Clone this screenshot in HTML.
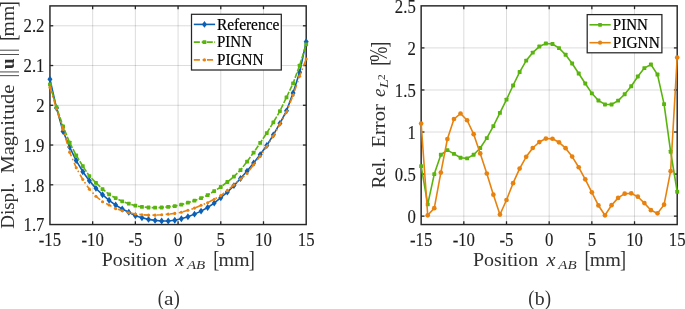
<!DOCTYPE html>
<html><head><meta charset="utf-8"><title>Figure</title>
<style>html,body{margin:0;padding:0;background:#fff;}svg{display:block;will-change:transform;filter:opacity(1);}</style>
</head><body>
<svg width="685" height="309" viewBox="0 0 685 309" font-family="'Liberation Serif', serif" fill="#222">
<rect width="685" height="309" fill="#ffffff"/>
<line x1="92.66" y1="5.90" x2="92.66" y2="224.55" stroke="rgba(38,38,38,0.16)" stroke-width="1"/>
<line x1="135.37" y1="5.90" x2="135.37" y2="224.55" stroke="rgba(38,38,38,0.16)" stroke-width="1"/>
<line x1="178.07" y1="5.90" x2="178.07" y2="224.55" stroke="rgba(38,38,38,0.16)" stroke-width="1"/>
<line x1="220.78" y1="5.90" x2="220.78" y2="224.55" stroke="rgba(38,38,38,0.16)" stroke-width="1"/>
<line x1="263.49" y1="5.90" x2="263.49" y2="224.55" stroke="rgba(38,38,38,0.16)" stroke-width="1"/>
<line x1="49.95" y1="184.80" x2="306.20" y2="184.80" stroke="rgba(38,38,38,0.16)" stroke-width="1"/>
<line x1="49.95" y1="145.04" x2="306.20" y2="145.04" stroke="rgba(38,38,38,0.16)" stroke-width="1"/>
<line x1="49.95" y1="105.29" x2="306.20" y2="105.29" stroke="rgba(38,38,38,0.16)" stroke-width="1"/>
<line x1="49.95" y1="65.53" x2="306.20" y2="65.53" stroke="rgba(38,38,38,0.16)" stroke-width="1"/>
<line x1="49.95" y1="25.78" x2="306.20" y2="25.78" stroke="rgba(38,38,38,0.16)" stroke-width="1"/>
<line x1="92.66" y1="224.55" x2="92.66" y2="221.25" stroke="#262626" stroke-width="1.3"/>
<line x1="92.66" y1="5.90" x2="92.66" y2="9.20" stroke="#262626" stroke-width="1.3"/>
<line x1="135.37" y1="224.55" x2="135.37" y2="221.25" stroke="#262626" stroke-width="1.3"/>
<line x1="135.37" y1="5.90" x2="135.37" y2="9.20" stroke="#262626" stroke-width="1.3"/>
<line x1="178.07" y1="224.55" x2="178.07" y2="221.25" stroke="#262626" stroke-width="1.3"/>
<line x1="178.07" y1="5.90" x2="178.07" y2="9.20" stroke="#262626" stroke-width="1.3"/>
<line x1="220.78" y1="224.55" x2="220.78" y2="221.25" stroke="#262626" stroke-width="1.3"/>
<line x1="220.78" y1="5.90" x2="220.78" y2="9.20" stroke="#262626" stroke-width="1.3"/>
<line x1="263.49" y1="224.55" x2="263.49" y2="221.25" stroke="#262626" stroke-width="1.3"/>
<line x1="263.49" y1="5.90" x2="263.49" y2="9.20" stroke="#262626" stroke-width="1.3"/>
<line x1="49.95" y1="184.80" x2="53.25" y2="184.80" stroke="#262626" stroke-width="1.3"/>
<line x1="306.20" y1="184.80" x2="302.90" y2="184.80" stroke="#262626" stroke-width="1.3"/>
<line x1="49.95" y1="145.04" x2="53.25" y2="145.04" stroke="#262626" stroke-width="1.3"/>
<line x1="306.20" y1="145.04" x2="302.90" y2="145.04" stroke="#262626" stroke-width="1.3"/>
<line x1="49.95" y1="105.29" x2="53.25" y2="105.29" stroke="#262626" stroke-width="1.3"/>
<line x1="306.20" y1="105.29" x2="302.90" y2="105.29" stroke="#262626" stroke-width="1.3"/>
<line x1="49.95" y1="65.53" x2="53.25" y2="65.53" stroke="#262626" stroke-width="1.3"/>
<line x1="306.20" y1="65.53" x2="302.90" y2="65.53" stroke="#262626" stroke-width="1.3"/>
<line x1="49.95" y1="25.78" x2="53.25" y2="25.78" stroke="#262626" stroke-width="1.3"/>
<line x1="306.20" y1="25.78" x2="302.90" y2="25.78" stroke="#262626" stroke-width="1.3"/>
<rect x="49.95" y="5.90" width="256.25" height="218.65" fill="none" stroke="#262626" stroke-width="1.45"/>
<polyline points="49.95,79.29 56.52,108.07 63.09,131.52 69.66,147.03 76.23,160.55 82.80,171.68 89.37,180.82 95.94,188.37 102.51,194.73 109.08,200.30 115.66,205.07 122.23,209.05 128.80,212.23 135.37,215.80 141.94,217.79 148.51,219.38 155.08,220.38 161.65,220.97 168.22,220.97 174.79,220.18 181.36,218.75 187.93,216.72 194.50,214.13 201.07,211.11 207.64,207.46 214.21,203.08 220.78,197.68 227.35,192.07 233.92,185.59 240.49,178.51 247.07,171.08 253.64,163.05 260.21,154.58 266.78,145.52 273.35,134.86 279.92,123.37 286.49,110.85 293.06,92.96 299.63,72.29 306.20,41.68" fill="none" stroke="#0b5fb4" stroke-width="1.6" stroke-linejoin="round"/>
<polygon points="49.95,75.84 52.45,79.29 49.95,82.74 47.45,79.29" fill="#0b5fb4"/>
<polygon points="56.52,104.62 59.02,108.07 56.52,111.52 54.02,108.07" fill="#0b5fb4"/>
<polygon points="63.09,128.07 65.59,131.52 63.09,134.97 60.59,131.52" fill="#0b5fb4"/>
<polygon points="69.66,143.58 72.16,147.03 69.66,150.48 67.16,147.03" fill="#0b5fb4"/>
<polygon points="76.23,157.10 78.73,160.55 76.23,164.00 73.73,160.55" fill="#0b5fb4"/>
<polygon points="82.80,168.23 85.30,171.68 82.80,175.13 80.30,171.68" fill="#0b5fb4"/>
<polygon points="89.37,177.37 91.87,180.82 89.37,184.27 86.87,180.82" fill="#0b5fb4"/>
<polygon points="95.94,184.92 98.44,188.37 95.94,191.82 93.44,188.37" fill="#0b5fb4"/>
<polygon points="102.51,191.28 105.01,194.73 102.51,198.18 100.01,194.73" fill="#0b5fb4"/>
<polygon points="109.08,196.85 111.58,200.30 109.08,203.75 106.58,200.30" fill="#0b5fb4"/>
<polygon points="115.66,201.62 118.16,205.07 115.66,208.52 113.16,205.07" fill="#0b5fb4"/>
<polygon points="122.23,205.60 124.73,209.05 122.23,212.50 119.73,209.05" fill="#0b5fb4"/>
<polygon points="128.80,208.78 131.30,212.23 128.80,215.68 126.30,212.23" fill="#0b5fb4"/>
<polygon points="135.37,212.35 137.87,215.80 135.37,219.25 132.87,215.80" fill="#0b5fb4"/>
<polygon points="141.94,214.34 144.44,217.79 141.94,221.24 139.44,217.79" fill="#0b5fb4"/>
<polygon points="148.51,215.93 151.01,219.38 148.51,222.83 146.01,219.38" fill="#0b5fb4"/>
<polygon points="155.08,216.93 157.58,220.38 155.08,223.83 152.58,220.38" fill="#0b5fb4"/>
<polygon points="161.65,217.52 164.15,220.97 161.65,224.42 159.15,220.97" fill="#0b5fb4"/>
<polygon points="168.22,217.52 170.72,220.97 168.22,224.42 165.72,220.97" fill="#0b5fb4"/>
<polygon points="174.79,216.73 177.29,220.18 174.79,223.63 172.29,220.18" fill="#0b5fb4"/>
<polygon points="181.36,215.30 183.86,218.75 181.36,222.20 178.86,218.75" fill="#0b5fb4"/>
<polygon points="187.93,213.27 190.43,216.72 187.93,220.17 185.43,216.72" fill="#0b5fb4"/>
<polygon points="194.50,210.68 197.00,214.13 194.50,217.58 192.00,214.13" fill="#0b5fb4"/>
<polygon points="201.07,207.66 203.57,211.11 201.07,214.56 198.57,211.11" fill="#0b5fb4"/>
<polygon points="207.64,204.01 210.14,207.46 207.64,210.91 205.14,207.46" fill="#0b5fb4"/>
<polygon points="214.21,199.63 216.71,203.08 214.21,206.53 211.71,203.08" fill="#0b5fb4"/>
<polygon points="220.78,194.23 223.28,197.68 220.78,201.13 218.28,197.68" fill="#0b5fb4"/>
<polygon points="227.35,188.62 229.85,192.07 227.35,195.52 224.85,192.07" fill="#0b5fb4"/>
<polygon points="233.92,182.14 236.42,185.59 233.92,189.04 231.42,185.59" fill="#0b5fb4"/>
<polygon points="240.49,175.06 242.99,178.51 240.49,181.96 237.99,178.51" fill="#0b5fb4"/>
<polygon points="247.07,167.63 249.57,171.08 247.07,174.53 244.57,171.08" fill="#0b5fb4"/>
<polygon points="253.64,159.60 256.14,163.05 253.64,166.50 251.14,163.05" fill="#0b5fb4"/>
<polygon points="260.21,151.13 262.71,154.58 260.21,158.03 257.71,154.58" fill="#0b5fb4"/>
<polygon points="266.78,142.07 269.28,145.52 266.78,148.97 264.28,145.52" fill="#0b5fb4"/>
<polygon points="273.35,131.41 275.85,134.86 273.35,138.31 270.85,134.86" fill="#0b5fb4"/>
<polygon points="279.92,119.92 282.42,123.37 279.92,126.82 277.42,123.37" fill="#0b5fb4"/>
<polygon points="286.49,107.40 288.99,110.85 286.49,114.30 283.99,110.85" fill="#0b5fb4"/>
<polygon points="293.06,89.51 295.56,92.96 293.06,96.41 290.56,92.96" fill="#0b5fb4"/>
<polygon points="299.63,68.84 302.13,72.29 299.63,75.74 297.13,72.29" fill="#0b5fb4"/>
<polygon points="306.20,38.23 308.70,41.68 306.20,45.13 303.70,41.68" fill="#0b5fb4"/>
<polyline points="49.95,84.34 56.52,107.27 63.09,126.36 69.66,142.66 76.23,155.38 82.80,166.11 89.37,176.05 95.94,182.81 102.51,189.17 109.08,194.34 115.66,198.07 122.23,201.29 128.80,203.68 135.37,205.71 141.94,206.90 148.51,207.50 155.08,207.69 161.65,207.50 168.22,206.90 174.79,206.10 181.36,204.67 187.93,202.69 194.50,200.70 201.07,198.07 207.64,195.13 214.21,191.04 220.78,186.98 227.35,182.01 233.92,176.53 240.49,170.09 247.07,161.62 253.64,152.59 260.21,142.89 266.78,133.04 273.35,122.38 279.92,111.05 286.49,97.34 293.06,83.42 299.63,65.53 306.20,44.46" fill="none" stroke="#5ab40e" stroke-width="1.6" stroke-linejoin="round" stroke-dasharray="5.4 1.5"/>
<rect x="48.05" y="82.44" width="3.8" height="3.8" rx="0.6" fill="#5ab40e"/>
<rect x="54.62" y="105.37" width="3.8" height="3.8" rx="0.6" fill="#5ab40e"/>
<rect x="61.19" y="124.46" width="3.8" height="3.8" rx="0.6" fill="#5ab40e"/>
<rect x="67.76" y="140.76" width="3.8" height="3.8" rx="0.6" fill="#5ab40e"/>
<rect x="74.33" y="153.48" width="3.8" height="3.8" rx="0.6" fill="#5ab40e"/>
<rect x="80.90" y="164.21" width="3.8" height="3.8" rx="0.6" fill="#5ab40e"/>
<rect x="87.47" y="174.15" width="3.8" height="3.8" rx="0.6" fill="#5ab40e"/>
<rect x="94.04" y="180.91" width="3.8" height="3.8" rx="0.6" fill="#5ab40e"/>
<rect x="100.61" y="187.27" width="3.8" height="3.8" rx="0.6" fill="#5ab40e"/>
<rect x="107.18" y="192.44" width="3.8" height="3.8" rx="0.6" fill="#5ab40e"/>
<rect x="113.76" y="196.17" width="3.8" height="3.8" rx="0.6" fill="#5ab40e"/>
<rect x="120.33" y="199.39" width="3.8" height="3.8" rx="0.6" fill="#5ab40e"/>
<rect x="126.90" y="201.78" width="3.8" height="3.8" rx="0.6" fill="#5ab40e"/>
<rect x="133.47" y="203.81" width="3.8" height="3.8" rx="0.6" fill="#5ab40e"/>
<rect x="140.04" y="205.00" width="3.8" height="3.8" rx="0.6" fill="#5ab40e"/>
<rect x="146.61" y="205.60" width="3.8" height="3.8" rx="0.6" fill="#5ab40e"/>
<rect x="153.18" y="205.79" width="3.8" height="3.8" rx="0.6" fill="#5ab40e"/>
<rect x="159.75" y="205.60" width="3.8" height="3.8" rx="0.6" fill="#5ab40e"/>
<rect x="166.32" y="205.00" width="3.8" height="3.8" rx="0.6" fill="#5ab40e"/>
<rect x="172.89" y="204.20" width="3.8" height="3.8" rx="0.6" fill="#5ab40e"/>
<rect x="179.46" y="202.77" width="3.8" height="3.8" rx="0.6" fill="#5ab40e"/>
<rect x="186.03" y="200.79" width="3.8" height="3.8" rx="0.6" fill="#5ab40e"/>
<rect x="192.60" y="198.80" width="3.8" height="3.8" rx="0.6" fill="#5ab40e"/>
<rect x="199.17" y="196.17" width="3.8" height="3.8" rx="0.6" fill="#5ab40e"/>
<rect x="205.74" y="193.23" width="3.8" height="3.8" rx="0.6" fill="#5ab40e"/>
<rect x="212.31" y="189.14" width="3.8" height="3.8" rx="0.6" fill="#5ab40e"/>
<rect x="218.88" y="185.08" width="3.8" height="3.8" rx="0.6" fill="#5ab40e"/>
<rect x="225.45" y="180.11" width="3.8" height="3.8" rx="0.6" fill="#5ab40e"/>
<rect x="232.02" y="174.63" width="3.8" height="3.8" rx="0.6" fill="#5ab40e"/>
<rect x="238.59" y="168.19" width="3.8" height="3.8" rx="0.6" fill="#5ab40e"/>
<rect x="245.17" y="159.72" width="3.8" height="3.8" rx="0.6" fill="#5ab40e"/>
<rect x="251.74" y="150.69" width="3.8" height="3.8" rx="0.6" fill="#5ab40e"/>
<rect x="258.31" y="140.99" width="3.8" height="3.8" rx="0.6" fill="#5ab40e"/>
<rect x="264.88" y="131.14" width="3.8" height="3.8" rx="0.6" fill="#5ab40e"/>
<rect x="271.45" y="120.48" width="3.8" height="3.8" rx="0.6" fill="#5ab40e"/>
<rect x="278.02" y="109.15" width="3.8" height="3.8" rx="0.6" fill="#5ab40e"/>
<rect x="284.59" y="95.44" width="3.8" height="3.8" rx="0.6" fill="#5ab40e"/>
<rect x="291.16" y="81.52" width="3.8" height="3.8" rx="0.6" fill="#5ab40e"/>
<rect x="297.73" y="63.63" width="3.8" height="3.8" rx="0.6" fill="#5ab40e"/>
<rect x="304.30" y="42.56" width="3.8" height="3.8" rx="0.6" fill="#5ab40e"/>
<polyline points="49.95,87.40 56.52,108.86 63.09,129.14 69.66,152.20 76.23,167.70 82.80,179.51 89.37,189.17 95.94,196.32 102.51,201.69 109.08,205.07 115.66,208.65 122.23,210.72 128.80,212.70 135.37,213.94 141.94,214.73 148.51,215.13 155.08,215.13 161.65,214.73 168.22,214.13 174.79,213.42 181.36,212.31 187.93,210.32 194.50,208.09 201.07,205.31 207.64,202.69 214.21,199.27 220.78,195.65 227.35,190.64 233.92,184.91 240.49,179.11 247.07,173.51 253.64,164.64 260.21,156.17 266.78,146.51 273.35,136.06 279.92,124.37 286.49,112.04 293.06,95.35 299.63,76.27 306.20,58.97" fill="none" stroke="#e8820e" stroke-width="1.6" stroke-linejoin="round" stroke-dasharray="6.1 2.75 1.6 2.75"/>
<circle cx="49.95" cy="87.40" r="1.55" fill="#e8820e"/>
<circle cx="56.52" cy="108.86" r="1.55" fill="#e8820e"/>
<circle cx="63.09" cy="129.14" r="1.55" fill="#e8820e"/>
<circle cx="69.66" cy="152.20" r="1.55" fill="#e8820e"/>
<circle cx="76.23" cy="167.70" r="1.55" fill="#e8820e"/>
<circle cx="82.80" cy="179.51" r="1.55" fill="#e8820e"/>
<circle cx="89.37" cy="189.17" r="1.55" fill="#e8820e"/>
<circle cx="95.94" cy="196.32" r="1.55" fill="#e8820e"/>
<circle cx="102.51" cy="201.69" r="1.55" fill="#e8820e"/>
<circle cx="109.08" cy="205.07" r="1.55" fill="#e8820e"/>
<circle cx="115.66" cy="208.65" r="1.55" fill="#e8820e"/>
<circle cx="122.23" cy="210.72" r="1.55" fill="#e8820e"/>
<circle cx="128.80" cy="212.70" r="1.55" fill="#e8820e"/>
<circle cx="135.37" cy="213.94" r="1.55" fill="#e8820e"/>
<circle cx="141.94" cy="214.73" r="1.55" fill="#e8820e"/>
<circle cx="148.51" cy="215.13" r="1.55" fill="#e8820e"/>
<circle cx="155.08" cy="215.13" r="1.55" fill="#e8820e"/>
<circle cx="161.65" cy="214.73" r="1.55" fill="#e8820e"/>
<circle cx="168.22" cy="214.13" r="1.55" fill="#e8820e"/>
<circle cx="174.79" cy="213.42" r="1.55" fill="#e8820e"/>
<circle cx="181.36" cy="212.31" r="1.55" fill="#e8820e"/>
<circle cx="187.93" cy="210.32" r="1.55" fill="#e8820e"/>
<circle cx="194.50" cy="208.09" r="1.55" fill="#e8820e"/>
<circle cx="201.07" cy="205.31" r="1.55" fill="#e8820e"/>
<circle cx="207.64" cy="202.69" r="1.55" fill="#e8820e"/>
<circle cx="214.21" cy="199.27" r="1.55" fill="#e8820e"/>
<circle cx="220.78" cy="195.65" r="1.55" fill="#e8820e"/>
<circle cx="227.35" cy="190.64" r="1.55" fill="#e8820e"/>
<circle cx="233.92" cy="184.91" r="1.55" fill="#e8820e"/>
<circle cx="240.49" cy="179.11" r="1.55" fill="#e8820e"/>
<circle cx="247.07" cy="173.51" r="1.55" fill="#e8820e"/>
<circle cx="253.64" cy="164.64" r="1.55" fill="#e8820e"/>
<circle cx="260.21" cy="156.17" r="1.55" fill="#e8820e"/>
<circle cx="266.78" cy="146.51" r="1.55" fill="#e8820e"/>
<circle cx="273.35" cy="136.06" r="1.55" fill="#e8820e"/>
<circle cx="279.92" cy="124.37" r="1.55" fill="#e8820e"/>
<circle cx="286.49" cy="112.04" r="1.55" fill="#e8820e"/>
<circle cx="293.06" cy="95.35" r="1.55" fill="#e8820e"/>
<circle cx="299.63" cy="76.27" r="1.55" fill="#e8820e"/>
<circle cx="306.20" cy="58.97" r="1.55" fill="#e8820e"/>
<text transform="translate(49.95 245.75) scale(0.985 1.055)" text-anchor="middle" font-size="17.0" fill="#1c1c1c" stroke="#1c1c1c" stroke-width="0.12">-15</text>
<text transform="translate(92.66 245.75) scale(0.985 1.055)" text-anchor="middle" font-size="17.0" fill="#1c1c1c" stroke="#1c1c1c" stroke-width="0.12">-10</text>
<text transform="translate(135.37 245.75) scale(0.985 1.055)" text-anchor="middle" font-size="17.0" fill="#1c1c1c" stroke="#1c1c1c" stroke-width="0.12">-5</text>
<text transform="translate(178.07 245.75) scale(0.985 1.055)" text-anchor="middle" font-size="17.0" fill="#1c1c1c" stroke="#1c1c1c" stroke-width="0.12">0</text>
<text transform="translate(220.78 245.75) scale(0.985 1.055)" text-anchor="middle" font-size="17.0" fill="#1c1c1c" stroke="#1c1c1c" stroke-width="0.12">5</text>
<text transform="translate(263.49 245.75) scale(0.985 1.055)" text-anchor="middle" font-size="17.0" fill="#1c1c1c" stroke="#1c1c1c" stroke-width="0.12">10</text>
<text transform="translate(306.20 245.75) scale(0.985 1.055)" text-anchor="middle" font-size="17.0" fill="#1c1c1c" stroke="#1c1c1c" stroke-width="0.12">15</text>
<text transform="translate(44.50 231.25) scale(0.985 1.055)" text-anchor="end" font-size="17.0" fill="#1c1c1c" stroke="#1c1c1c" stroke-width="0.12">1.7</text>
<text transform="translate(44.50 191.50) scale(0.985 1.055)" text-anchor="end" font-size="17.0" fill="#1c1c1c" stroke="#1c1c1c" stroke-width="0.12">1.8</text>
<text transform="translate(44.50 151.74) scale(0.985 1.055)" text-anchor="end" font-size="17.0" fill="#1c1c1c" stroke="#1c1c1c" stroke-width="0.12">1.9</text>
<text transform="translate(44.50 111.99) scale(0.985 1.055)" text-anchor="end" font-size="17.0" fill="#1c1c1c" stroke="#1c1c1c" stroke-width="0.12">2</text>
<text transform="translate(44.50 72.23) scale(0.985 1.055)" text-anchor="end" font-size="17.0" fill="#1c1c1c" stroke="#1c1c1c" stroke-width="0.12">2.1</text>
<text transform="translate(44.50 32.48) scale(0.985 1.055)" text-anchor="end" font-size="17.0" fill="#1c1c1c" stroke="#1c1c1c" stroke-width="0.12">2.2</text>
<rect x="191.5" y="14.3" width="89.8" height="55.7" fill="#fff" stroke="#262626" stroke-width="1.25"/>
<polyline points="193.80,24.40 215.10,24.40" fill="none" stroke="#0b5fb4" stroke-width="1.6" stroke-linejoin="round"/>
<polygon points="204.45,20.95 206.95,24.40 204.45,27.85 201.95,24.40" fill="#0b5fb4"/>
<text transform="translate(216.96 29.70) scale(0.9964 1.03)" font-size="15.45" fill="#000" stroke="#000" stroke-width="0.2">Reference</text>
<polyline points="193.80,42.10 215.10,42.10" fill="none" stroke="#5ab40e" stroke-width="1.6" stroke-linejoin="round" stroke-dasharray="6.1 1.8 4.6 0.7 5.8 1.5 0.8"/>
<rect x="202.55" y="40.20" width="3.8" height="3.8" rx="0.6" fill="#5ab40e"/>
<text transform="translate(216.97 47.40) scale(0.9714 1.03)" font-size="15.45" fill="#000" stroke="#000" stroke-width="0.2">PINN</text>
<polyline points="193.80,59.90 215.10,59.90" fill="none" stroke="#e8820e" stroke-width="1.6" stroke-linejoin="round" stroke-dasharray="6.1 2.75 1.6 2.75"/>
<circle cx="204.45" cy="59.90" r="1.65" fill="#e8820e"/>
<text transform="translate(216.96 65.20) scale(0.9856 1.03)" font-size="15.45" fill="#000" stroke="#000" stroke-width="0.2">PIGNN</text>
<g fill="#303030">
<text transform="translate(101.69 265.60) scale(1.0945 1.0)" font-size="18.2" >Position</text>
<text transform="translate(175.22 265.60) scale(1.1156 1.0)" font-size="18.2" font-style="italic" >x</text>
<text transform="translate(186.94 268.50) scale(1.1190 1.0)" font-size="13.4" font-style="italic" >AB</text>
<text transform="translate(213.26 267.35) scale(1.0 1.29)" font-size="18.2">[</text>
<text transform="translate(218.39 265.60) scale(1.1041 1.0)" font-size="18.2" >mm</text>
<text transform="translate(248.67 267.35) scale(1.0 1.29)" font-size="18.2">]</text>
<text transform="translate(157.63 305.20) scale(1.0 1.2)" font-size="18.2">(</text>
<text transform="translate(163.93 304.70) scale(1.1767 1.0)" font-size="18.2" >a</text>
<text transform="translate(173.70 305.20) scale(1.0 1.2)" font-size="18.2">)</text>
<g transform="translate(14.3 229.2) rotate(-90)">
<text transform="translate(0.40 0.00) scale(1.0454 1.0)" font-size="18.2" >Displ.</text>
<text transform="translate(55.68 0.00) scale(1.1271 1.0)" font-size="18.2" >Magnitude</text>
<text transform="translate(151.69 0.00) scale(1.0 1.14)" font-size="18.2" fill="#3a3a3a">|</text>
<text transform="translate(155.49 0.00) scale(1.0 1.14)" font-size="18.2" fill="#3a3a3a">|</text>
<text transform="translate(172.89 0.00) scale(1.0 1.14)" font-size="18.2" fill="#3a3a3a">|</text>
<text transform="translate(177.29 0.00) scale(1.0 1.14)" font-size="18.2" fill="#3a3a3a">|</text>
<text transform="translate(159.90 0.00) scale(1.0653 1.0)" font-size="18.2" font-weight="bold" >u</text>
<text transform="translate(188.36 1.75) scale(1.0 1.29)" font-size="18.2">[</text>
<text transform="translate(192.79 0.00) scale(1.0825 1.0)" font-size="18.2" >mm</text>
<text transform="translate(221.97 1.75) scale(1.0 1.29)" font-size="18.2">]</text>
</g>
</g>
<line x1="463.82" y1="5.85" x2="463.82" y2="224.55" stroke="rgba(38,38,38,0.16)" stroke-width="1"/>
<line x1="506.50" y1="5.85" x2="506.50" y2="224.55" stroke="rgba(38,38,38,0.16)" stroke-width="1"/>
<line x1="549.17" y1="5.85" x2="549.17" y2="224.55" stroke="rgba(38,38,38,0.16)" stroke-width="1"/>
<line x1="591.85" y1="5.85" x2="591.85" y2="224.55" stroke="rgba(38,38,38,0.16)" stroke-width="1"/>
<line x1="634.53" y1="5.85" x2="634.53" y2="224.55" stroke="rgba(38,38,38,0.16)" stroke-width="1"/>
<line x1="421.15" y1="216.14" x2="677.20" y2="216.14" stroke="rgba(38,38,38,0.16)" stroke-width="1"/>
<line x1="421.15" y1="174.08" x2="677.20" y2="174.08" stroke="rgba(38,38,38,0.16)" stroke-width="1"/>
<line x1="421.15" y1="132.02" x2="677.20" y2="132.02" stroke="rgba(38,38,38,0.16)" stroke-width="1"/>
<line x1="421.15" y1="89.97" x2="677.20" y2="89.97" stroke="rgba(38,38,38,0.16)" stroke-width="1"/>
<line x1="421.15" y1="47.91" x2="677.20" y2="47.91" stroke="rgba(38,38,38,0.16)" stroke-width="1"/>
<line x1="463.82" y1="224.55" x2="463.82" y2="221.25" stroke="#262626" stroke-width="1.3"/>
<line x1="463.82" y1="5.85" x2="463.82" y2="9.15" stroke="#262626" stroke-width="1.3"/>
<line x1="506.50" y1="224.55" x2="506.50" y2="221.25" stroke="#262626" stroke-width="1.3"/>
<line x1="506.50" y1="5.85" x2="506.50" y2="9.15" stroke="#262626" stroke-width="1.3"/>
<line x1="549.17" y1="224.55" x2="549.17" y2="221.25" stroke="#262626" stroke-width="1.3"/>
<line x1="549.17" y1="5.85" x2="549.17" y2="9.15" stroke="#262626" stroke-width="1.3"/>
<line x1="591.85" y1="224.55" x2="591.85" y2="221.25" stroke="#262626" stroke-width="1.3"/>
<line x1="591.85" y1="5.85" x2="591.85" y2="9.15" stroke="#262626" stroke-width="1.3"/>
<line x1="634.53" y1="224.55" x2="634.53" y2="221.25" stroke="#262626" stroke-width="1.3"/>
<line x1="634.53" y1="5.85" x2="634.53" y2="9.15" stroke="#262626" stroke-width="1.3"/>
<line x1="421.15" y1="216.14" x2="424.45" y2="216.14" stroke="#262626" stroke-width="1.3"/>
<line x1="677.20" y1="216.14" x2="673.90" y2="216.14" stroke="#262626" stroke-width="1.3"/>
<line x1="421.15" y1="174.08" x2="424.45" y2="174.08" stroke="#262626" stroke-width="1.3"/>
<line x1="677.20" y1="174.08" x2="673.90" y2="174.08" stroke="#262626" stroke-width="1.3"/>
<line x1="421.15" y1="132.02" x2="424.45" y2="132.02" stroke="#262626" stroke-width="1.3"/>
<line x1="677.20" y1="132.02" x2="673.90" y2="132.02" stroke="#262626" stroke-width="1.3"/>
<line x1="421.15" y1="89.97" x2="424.45" y2="89.97" stroke="#262626" stroke-width="1.3"/>
<line x1="677.20" y1="89.97" x2="673.90" y2="89.97" stroke="#262626" stroke-width="1.3"/>
<line x1="421.15" y1="47.91" x2="424.45" y2="47.91" stroke="#262626" stroke-width="1.3"/>
<line x1="677.20" y1="47.91" x2="673.90" y2="47.91" stroke="#262626" stroke-width="1.3"/>
<rect x="421.15" y="5.85" width="256.05" height="218.70" fill="none" stroke="#262626" stroke-width="1.45"/>
<polyline points="421.15,166.17 427.72,204.36 434.28,174.08 440.85,154.73 447.41,150.11 453.98,153.89 460.54,157.76 467.11,158.35 473.67,154.73 480.24,148.00 486.80,138.08 493.37,126.13 499.93,112.84 506.50,99.64 513.07,85.51 519.63,72.05 526.20,60.61 532.76,52.62 539.33,46.56 545.89,43.53 552.46,43.95 559.02,48.08 565.59,54.72 572.15,63.47 578.72,73.56 585.28,83.49 591.85,93.33 598.42,100.48 604.98,104.43 611.55,104.52 618.11,100.65 624.68,94.26 631.24,86.18 637.81,76.51 644.37,68.10 650.94,64.48 657.50,74.57 664.07,104.10 670.63,151.71 677.20,191.75" fill="none" stroke="#5ab40e" stroke-width="1.6" stroke-linejoin="round"/>
<rect x="419.20" y="164.22" width="3.9" height="3.9" rx="0.6" fill="#5ab40e"/>
<rect x="425.77" y="202.41" width="3.9" height="3.9" rx="0.6" fill="#5ab40e"/>
<rect x="432.33" y="172.13" width="3.9" height="3.9" rx="0.6" fill="#5ab40e"/>
<rect x="438.90" y="152.78" width="3.9" height="3.9" rx="0.6" fill="#5ab40e"/>
<rect x="445.46" y="148.16" width="3.9" height="3.9" rx="0.6" fill="#5ab40e"/>
<rect x="452.03" y="151.94" width="3.9" height="3.9" rx="0.6" fill="#5ab40e"/>
<rect x="458.59" y="155.81" width="3.9" height="3.9" rx="0.6" fill="#5ab40e"/>
<rect x="465.16" y="156.40" width="3.9" height="3.9" rx="0.6" fill="#5ab40e"/>
<rect x="471.72" y="152.78" width="3.9" height="3.9" rx="0.6" fill="#5ab40e"/>
<rect x="478.29" y="146.06" width="3.9" height="3.9" rx="0.6" fill="#5ab40e"/>
<rect x="484.85" y="136.13" width="3.9" height="3.9" rx="0.6" fill="#5ab40e"/>
<rect x="491.42" y="124.18" width="3.9" height="3.9" rx="0.6" fill="#5ab40e"/>
<rect x="497.98" y="110.89" width="3.9" height="3.9" rx="0.6" fill="#5ab40e"/>
<rect x="504.55" y="97.69" width="3.9" height="3.9" rx="0.6" fill="#5ab40e"/>
<rect x="511.12" y="83.56" width="3.9" height="3.9" rx="0.6" fill="#5ab40e"/>
<rect x="517.68" y="70.10" width="3.9" height="3.9" rx="0.6" fill="#5ab40e"/>
<rect x="524.25" y="58.66" width="3.9" height="3.9" rx="0.6" fill="#5ab40e"/>
<rect x="530.81" y="50.67" width="3.9" height="3.9" rx="0.6" fill="#5ab40e"/>
<rect x="537.38" y="44.61" width="3.9" height="3.9" rx="0.6" fill="#5ab40e"/>
<rect x="543.94" y="41.58" width="3.9" height="3.9" rx="0.6" fill="#5ab40e"/>
<rect x="550.51" y="42.00" width="3.9" height="3.9" rx="0.6" fill="#5ab40e"/>
<rect x="557.07" y="46.13" width="3.9" height="3.9" rx="0.6" fill="#5ab40e"/>
<rect x="563.64" y="52.77" width="3.9" height="3.9" rx="0.6" fill="#5ab40e"/>
<rect x="570.20" y="61.52" width="3.9" height="3.9" rx="0.6" fill="#5ab40e"/>
<rect x="576.77" y="71.61" width="3.9" height="3.9" rx="0.6" fill="#5ab40e"/>
<rect x="583.33" y="81.54" width="3.9" height="3.9" rx="0.6" fill="#5ab40e"/>
<rect x="589.90" y="91.38" width="3.9" height="3.9" rx="0.6" fill="#5ab40e"/>
<rect x="596.47" y="98.53" width="3.9" height="3.9" rx="0.6" fill="#5ab40e"/>
<rect x="603.03" y="102.48" width="3.9" height="3.9" rx="0.6" fill="#5ab40e"/>
<rect x="609.60" y="102.57" width="3.9" height="3.9" rx="0.6" fill="#5ab40e"/>
<rect x="616.16" y="98.70" width="3.9" height="3.9" rx="0.6" fill="#5ab40e"/>
<rect x="622.73" y="92.31" width="3.9" height="3.9" rx="0.6" fill="#5ab40e"/>
<rect x="629.29" y="84.23" width="3.9" height="3.9" rx="0.6" fill="#5ab40e"/>
<rect x="635.86" y="74.56" width="3.9" height="3.9" rx="0.6" fill="#5ab40e"/>
<rect x="642.42" y="66.15" width="3.9" height="3.9" rx="0.6" fill="#5ab40e"/>
<rect x="648.99" y="62.53" width="3.9" height="3.9" rx="0.6" fill="#5ab40e"/>
<rect x="655.55" y="72.62" width="3.9" height="3.9" rx="0.6" fill="#5ab40e"/>
<rect x="662.12" y="102.15" width="3.9" height="3.9" rx="0.6" fill="#5ab40e"/>
<rect x="668.68" y="149.76" width="3.9" height="3.9" rx="0.6" fill="#5ab40e"/>
<rect x="675.25" y="189.80" width="3.9" height="3.9" rx="0.6" fill="#5ab40e"/>
<polyline points="421.15,123.61 427.72,215.30 434.28,208.15 440.85,172.57 447.41,139.00 453.98,118.99 460.54,113.52 467.11,120.25 473.67,134.21 480.24,153.39 486.80,173.49 493.37,194.69 499.93,214.62 506.50,199.99 513.07,183.17 519.63,168.61 526.20,156.84 532.76,148.00 539.33,142.03 545.89,138.58 552.46,138.75 559.02,142.29 565.59,148.17 572.15,156.58 578.72,167.27 585.28,179.30 591.85,192.33 598.42,205.46 604.98,215.30 611.55,205.20 618.11,197.89 624.68,193.68 631.24,193.34 637.81,196.71 644.37,203.10 650.94,210.17 657.50,213.36 664.07,204.70 670.63,171.22 677.20,57.50" fill="none" stroke="#e8820e" stroke-width="1.6" stroke-linejoin="round"/>
<circle cx="421.15" cy="123.61" r="2.35" fill="#e8820e"/>
<circle cx="427.72" cy="215.30" r="2.35" fill="#e8820e"/>
<circle cx="434.28" cy="208.15" r="2.35" fill="#e8820e"/>
<circle cx="440.85" cy="172.57" r="2.35" fill="#e8820e"/>
<circle cx="447.41" cy="139.00" r="2.35" fill="#e8820e"/>
<circle cx="453.98" cy="118.99" r="2.35" fill="#e8820e"/>
<circle cx="460.54" cy="113.52" r="2.35" fill="#e8820e"/>
<circle cx="467.11" cy="120.25" r="2.35" fill="#e8820e"/>
<circle cx="473.67" cy="134.21" r="2.35" fill="#e8820e"/>
<circle cx="480.24" cy="153.39" r="2.35" fill="#e8820e"/>
<circle cx="486.80" cy="173.49" r="2.35" fill="#e8820e"/>
<circle cx="493.37" cy="194.69" r="2.35" fill="#e8820e"/>
<circle cx="499.93" cy="214.62" r="2.35" fill="#e8820e"/>
<circle cx="506.50" cy="199.99" r="2.35" fill="#e8820e"/>
<circle cx="513.07" cy="183.17" r="2.35" fill="#e8820e"/>
<circle cx="519.63" cy="168.61" r="2.35" fill="#e8820e"/>
<circle cx="526.20" cy="156.84" r="2.35" fill="#e8820e"/>
<circle cx="532.76" cy="148.00" r="2.35" fill="#e8820e"/>
<circle cx="539.33" cy="142.03" r="2.35" fill="#e8820e"/>
<circle cx="545.89" cy="138.58" r="2.35" fill="#e8820e"/>
<circle cx="552.46" cy="138.75" r="2.35" fill="#e8820e"/>
<circle cx="559.02" cy="142.29" r="2.35" fill="#e8820e"/>
<circle cx="565.59" cy="148.17" r="2.35" fill="#e8820e"/>
<circle cx="572.15" cy="156.58" r="2.35" fill="#e8820e"/>
<circle cx="578.72" cy="167.27" r="2.35" fill="#e8820e"/>
<circle cx="585.28" cy="179.30" r="2.35" fill="#e8820e"/>
<circle cx="591.85" cy="192.33" r="2.35" fill="#e8820e"/>
<circle cx="598.42" cy="205.46" r="2.35" fill="#e8820e"/>
<circle cx="604.98" cy="215.30" r="2.35" fill="#e8820e"/>
<circle cx="611.55" cy="205.20" r="2.35" fill="#e8820e"/>
<circle cx="618.11" cy="197.89" r="2.35" fill="#e8820e"/>
<circle cx="624.68" cy="193.68" r="2.35" fill="#e8820e"/>
<circle cx="631.24" cy="193.34" r="2.35" fill="#e8820e"/>
<circle cx="637.81" cy="196.71" r="2.35" fill="#e8820e"/>
<circle cx="644.37" cy="203.10" r="2.35" fill="#e8820e"/>
<circle cx="650.94" cy="210.17" r="2.35" fill="#e8820e"/>
<circle cx="657.50" cy="213.36" r="2.35" fill="#e8820e"/>
<circle cx="664.07" cy="204.70" r="2.35" fill="#e8820e"/>
<circle cx="670.63" cy="171.22" r="2.35" fill="#e8820e"/>
<circle cx="677.20" cy="57.50" r="2.35" fill="#e8820e"/>
<text transform="translate(421.15 245.75) scale(0.985 1.055)" text-anchor="middle" font-size="17.0" fill="#1c1c1c" stroke="#1c1c1c" stroke-width="0.12">-15</text>
<text transform="translate(463.82 245.75) scale(0.985 1.055)" text-anchor="middle" font-size="17.0" fill="#1c1c1c" stroke="#1c1c1c" stroke-width="0.12">-10</text>
<text transform="translate(506.50 245.75) scale(0.985 1.055)" text-anchor="middle" font-size="17.0" fill="#1c1c1c" stroke="#1c1c1c" stroke-width="0.12">-5</text>
<text transform="translate(549.17 245.75) scale(0.985 1.055)" text-anchor="middle" font-size="17.0" fill="#1c1c1c" stroke="#1c1c1c" stroke-width="0.12">0</text>
<text transform="translate(591.85 245.75) scale(0.985 1.055)" text-anchor="middle" font-size="17.0" fill="#1c1c1c" stroke="#1c1c1c" stroke-width="0.12">5</text>
<text transform="translate(634.53 245.75) scale(0.985 1.055)" text-anchor="middle" font-size="17.0" fill="#1c1c1c" stroke="#1c1c1c" stroke-width="0.12">10</text>
<text transform="translate(677.20 245.75) scale(0.985 1.055)" text-anchor="middle" font-size="17.0" fill="#1c1c1c" stroke="#1c1c1c" stroke-width="0.12">15</text>
<text transform="translate(415.80 222.84) scale(0.985 1.055)" text-anchor="end" font-size="17.0" fill="#1c1c1c" stroke="#1c1c1c" stroke-width="0.12">0</text>
<text transform="translate(415.80 180.78) scale(0.985 1.055)" text-anchor="end" font-size="17.0" fill="#1c1c1c" stroke="#1c1c1c" stroke-width="0.12">0.5</text>
<text transform="translate(415.80 138.72) scale(0.985 1.055)" text-anchor="end" font-size="17.0" fill="#1c1c1c" stroke="#1c1c1c" stroke-width="0.12">1</text>
<text transform="translate(415.80 96.67) scale(0.985 1.055)" text-anchor="end" font-size="17.0" fill="#1c1c1c" stroke="#1c1c1c" stroke-width="0.12">1.5</text>
<text transform="translate(415.80 54.61) scale(0.985 1.055)" text-anchor="end" font-size="17.0" fill="#1c1c1c" stroke="#1c1c1c" stroke-width="0.12">2</text>
<text transform="translate(415.80 12.55) scale(0.985 1.055)" text-anchor="end" font-size="17.0" fill="#1c1c1c" stroke="#1c1c1c" stroke-width="0.12">2.5</text>
<rect x="587.2" y="14.6" width="74.7" height="38.2" fill="#fff" stroke="#262626" stroke-width="1.25"/>
<polyline points="589.40,24.80 610.70,24.80" fill="none" stroke="#5ab40e" stroke-width="1.6" stroke-linejoin="round"/>
<rect x="598.15" y="22.90" width="3.8" height="3.8" rx="0.6" fill="#5ab40e"/>
<text transform="translate(612.87 30.10) scale(0.9686 1.03)" font-size="15.45" fill="#000" stroke="#000" stroke-width="0.2">PINN</text>
<polyline points="589.40,42.70 610.70,42.70" fill="none" stroke="#e8820e" stroke-width="1.6" stroke-linejoin="round"/>
<circle cx="600.05" cy="42.70" r="2.1" fill="#e8820e"/>
<text transform="translate(612.86 48.00) scale(0.9941 1.03)" font-size="15.45" fill="#000" stroke="#000" stroke-width="0.2">PIGNN</text>
<g fill="#303030">
<text transform="translate(472.99 265.60) scale(1.0945 1.0)" font-size="18.2" >Position</text>
<text transform="translate(546.52 265.60) scale(1.1156 1.0)" font-size="18.2" font-style="italic" >x</text>
<text transform="translate(558.24 268.50) scale(1.1190 1.0)" font-size="13.4" font-style="italic" >AB</text>
<text transform="translate(584.56 267.35) scale(1.0 1.29)" font-size="18.2">[</text>
<text transform="translate(589.69 265.60) scale(1.1041 1.0)" font-size="18.2" >mm</text>
<text transform="translate(619.97 267.35) scale(1.0 1.29)" font-size="18.2">]</text>
<text transform="translate(528.33 305.20) scale(1.0 1.2)" font-size="18.2">(</text>
<text transform="translate(534.80 304.70) scale(1.0901 1.0)" font-size="18.2" >b</text>
<text transform="translate(544.90 305.20) scale(1.0 1.2)" font-size="18.2">)</text>
<g transform="translate(385.1 188.0) rotate(-90)">
<text transform="translate(-0.29 0.00) scale(1.0351 1.0)" font-size="18.2" >Rel.</text>
<text transform="translate(40.38 0.00) scale(1.1308 1.0)" font-size="18.2" >Error</text>
<text transform="translate(91.00 0.00) scale(1.0549 1.0)" font-size="18.2" font-style="italic" >e</text>
<text transform="translate(99.86 3.20) scale(1.2406 1.0)" font-size="13.2" font-style="italic" >L</text>
<text transform="translate(107.94 -0.20) scale(1.1378 1.0)" font-size="10" >2</text>
<text transform="translate(122.16 1.75) scale(1.0 1.29)" font-size="18.2">[</text>
<text transform="translate(126.33 1.70) scale(0.9987 1.34)" font-size="18.2" >%</text>
<text transform="translate(140.17 1.75) scale(1.0 1.29)" font-size="18.2">]</text>
</g>
</g>
</svg>
</body></html>
